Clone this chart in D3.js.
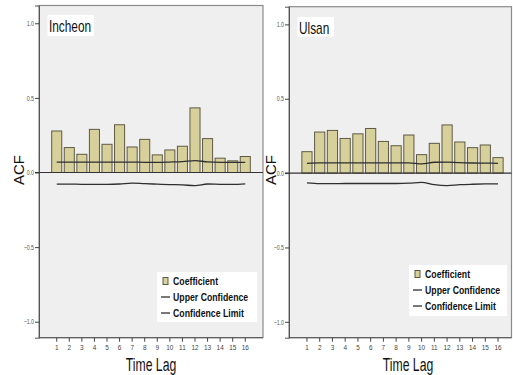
<!DOCTYPE html>
<html>
<head>
<meta charset="utf-8">
<script src="https://cdn.jsdelivr.net/npm/d3@7"></script>
<style>
  html, body { margin: 0; padding: 0; background: #fff; }
  svg { display: block; }
  text { font-family: "Liberation Sans", Arial, sans-serif; }
</style>
</head>
<body>
<svg id="chart" width="513" height="375"></svg>
<script>
// Lags shown on the horizontal axis
const lags = d3.range(1, 17);
const yTicks = [1.0, 0.5, 0.0, -0.5, -1.0];

// Incheon autocorrelation coefficients and confidence bounds
const incheonACF = [0.278, 0.167, 0.122, 0.289, 0.189, 0.320, 0.171, 0.222, 0.118, 0.151, 0.176, 0.433, 0.227, 0.096, 0.078, 0.107];
const incheonUpper = [0.069, 0.069, 0.069, 0.069, 0.069, 0.069, 0.070, 0.068, 0.068, 0.070, 0.073, 0.080, 0.071, 0.068, 0.068, 0.068];
const incheonLower = [-0.078, -0.078, -0.079, -0.079, -0.079, -0.077, -0.071, -0.075, -0.078, -0.081, -0.083, -0.088, -0.077, -0.079, -0.080, -0.076];

// Ulsan autocorrelation coefficients and confidence bounds
const ulsanACF = [0.144, 0.276, 0.287, 0.233, 0.264, 0.300, 0.213, 0.184, 0.256, 0.124, 0.200, 0.324, 0.209, 0.171, 0.189, 0.104];
const ulsanUpper = [0.066, 0.069, 0.069, 0.069, 0.069, 0.069, 0.069, 0.069, 0.069, 0.062, 0.073, 0.074, 0.070, 0.068, 0.067, 0.066];
const ulsanLower = [-0.066, -0.071, -0.071, -0.070, -0.070, -0.070, -0.070, -0.070, -0.068, -0.062, -0.078, -0.084, -0.078, -0.075, -0.073, -0.072];

const legendLabels = ["Coefficient", "Upper Confidence", "Confidence Limit"];

const svg = d3.select("#chart");

// squeeze a tick label horizontally so it reads like a condensed face
function condense(sel, factor) {
  sel.each(function () {
    const w = this.getComputedTextLength();
    this.setAttribute("textLength", (w * factor).toFixed(2));
    this.setAttribute("lengthAdjust", "spacingAndGlyphs");
  });
}

// place a text at (x, y) and scale it horizontally about that anchor
function placeNarrow(sel, x, y, factor) {
  sel.attr("x", 0).attr("y", 0)
    .attr("transform", `translate(${x},${y}) scale(${factor},1)`);
}

const panels = [
  { name: "Incheon", acf: incheonACF, upper: incheonUpper, lower: incheonLower,
    x0: 39, x1: 263, frameRight: 263, top: 5.5, bottom: 337.7, acfX: 19, titleBox: [47.5, 15, 46.5, 21],
    legend: { x: 157, y: 272, w: 100, h: 50 }, lagX: 151 },
  { name: "Ulsan", acf: ulsanACF, upper: ulsanUpper, lower: ulsanLower,
    x0: 289, x1: 516, frameRight: 511.5, top: 6.7, bottom: 337.7, acfX: 271, titleBox: [297.5, 17, 36.5, 19.5],
    legend: { x: 409, y: 265, w: 98, h: 51 }, lagX: 408 }
];

const barFill = "#d8d09b";
const barStroke = "#5e5a45";
const lineColor = "#2f2f2f";

panels.forEach(p => {
  const g = svg.append("g");

  const x = d3.scaleBand().domain(lags).range([p.x0, p.x1]).paddingInner(0.2).paddingOuter(1.01);
  const y = d3.scaleLinear().domain([-1.107, 1.119]).range([p.bottom, p.top]);

  // plot area
  g.append("rect")
    .attr("x", p.x0).attr("y", p.top)
    .attr("width", p.frameRight - p.x0).attr("height", p.bottom - p.top)
    .attr("fill", "#efefef").attr("stroke", "#8a8a8a").attr("stroke-width", 1.2);

  // y axis
  const yAxis = d3.axisLeft(y).tickValues(yTicks).tickFormat(d3.format(".1f")).tickSize(4).tickPadding(1);
  const ya = g.append("g").attr("transform", `translate(${p.x0},0)`).call(yAxis);
  ya.select(".domain").attr("stroke", "#555");
  ya.selectAll(".tick line").attr("stroke", "#444");
  ya.selectAll(".tick text").attr("font-size", 7).attr("font-family", null).attr("fill", "#555")
    .call(condense, 0.75);

  // x axis
  const xAxis = d3.axisBottom(x).tickSize(4).tickPadding(3);
  const xa = g.append("g").attr("transform", `translate(0,${p.bottom})`).call(xAxis);
  xa.select(".domain").attr("stroke", "#555").attr("d", `M${p.x0},0H${p.frameRight}`);
  xa.selectAll(".tick line").attr("stroke", "#444");
  xa.selectAll(".tick text").attr("font-size", 8).attr("font-family", null).attr("fill", "#444")
    .call(condense, 0.8);

  // bars
  g.selectAll("rect.bar").data(p.acf).join("rect")
    .attr("class", "bar")
    .attr("x", (d, i) => x(lags[i]))
    .attr("width", x.bandwidth())
    .attr("y", d => y(Math.max(0, d)))
    .attr("height", d => Math.abs(y(d) - y(0)))
    .attr("fill", barFill).attr("stroke", barStroke).attr("stroke-width", 1);

  // zero reference line
  g.append("line")
    .attr("x1", p.x0 - 4).attr("x2", p.frameRight)
    .attr("y1", y(0)).attr("y2", y(0))
    .attr("stroke", "#333").attr("stroke-width", 1.2);

  // confidence bounds
  const line = d3.line()
    .x((d, i) => x(lags[i]) + x.bandwidth() / 2)
    .y(d => y(d))
    .curve(d3.curveMonotoneX);
  [p.upper, p.lower].forEach(arr => {
    g.append("path").attr("d", line(arr))
      .attr("fill", "none").attr("stroke", lineColor).attr("stroke-width", 1.3);
  });

  // title
  g.append("rect")
    .attr("x", p.titleBox[0]).attr("y", p.titleBox[1])
    .attr("width", p.titleBox[2]).attr("height", p.titleBox[3])
    .attr("fill", "#fff");
  g.append("text")
    .attr("font-size", 16).attr("fill", "#111")
    .text(p.name)
    .call(placeNarrow, p.titleBox[0] + 1.5, p.titleBox[1] + 17, 0.74);

  // legend
  const L = p.legend;
  const lg = g.append("g").attr("transform", `translate(${L.x},${L.y})`);
  lg.append("rect").attr("width", L.w).attr("height", L.h).attr("fill", "#fff");
  legendLabels.forEach((t, i) => {
    const cy = 9 + i * 16;
    if (i === 0) {
      lg.append("rect").attr("x", 6).attr("y", cy - 3.5).attr("width", 5).attr("height", 7)
        .attr("fill", barFill).attr("stroke", barStroke).attr("stroke-width", 1);
    } else {
      lg.append("line").attr("x1", 4).attr("x2", 13).attr("y1", cy).attr("y2", cy)
        .attr("stroke", lineColor).attr("stroke-width", 1.3);
    }
    lg.append("text")
      .attr("font-size", 11.5).attr("font-weight", "bold").attr("fill", "#111")
      .text(t)
      .call(placeNarrow, 16, cy + 4, 0.76);
  });

  // axis titles
  g.append("text")
    .attr("transform", `translate(${p.acfX + 5},170) rotate(-90)`)
    .attr("text-anchor", "middle").attr("font-size", 15).attr("fill", "#111")
    .text("ACF");
  g.append("text")
    .attr("text-anchor", "middle").attr("font-size", 18).attr("fill", "#111")
    .text("Time Lag")
    .call(placeNarrow, p.lagX, 371, 0.68);
});
</script>
</body>
</html>
